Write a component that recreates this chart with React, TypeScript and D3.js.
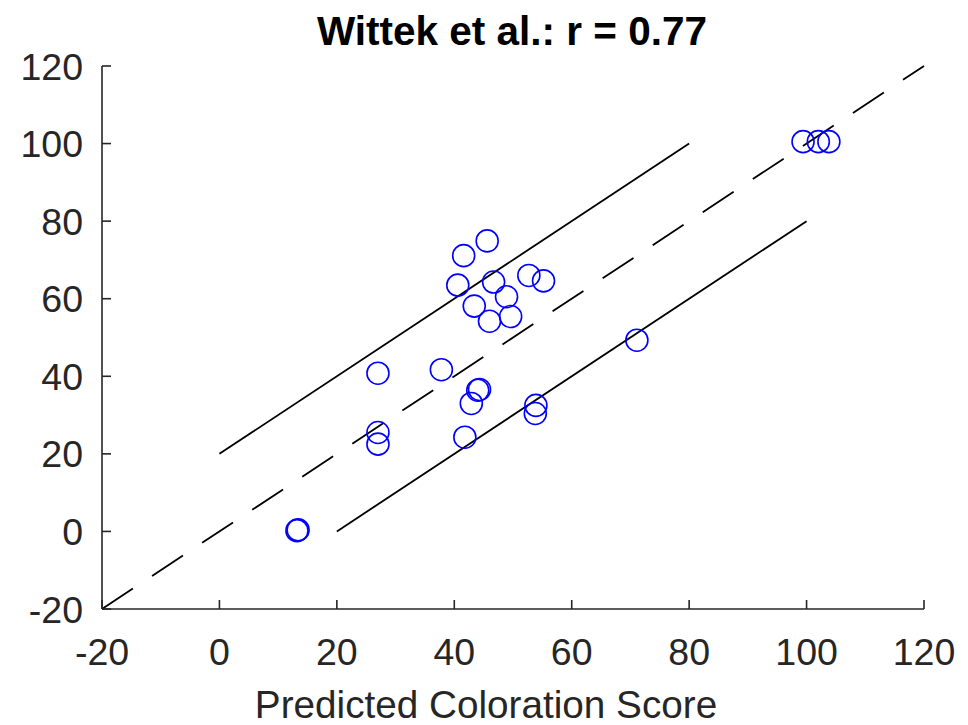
import React from 'react';
import {scaleLinear, line} from 'd3';

const predicted = [45.6, 41.6, 40.6, 46.7, 52.7, 55.2, 48.9, 43.4, 46.0, 49.6, 27.0, 37.8, 44.3, 44.0, 42.9, 53.9, 53.8, 27.0, 27.0, 41.8, 99.4, 102.0, 103.8, 71.1, 13.2, 13.4];
const observed = [74.9, 71.1, 63.5, 64.3, 66.0, 64.6, 60.5, 58.1, 54.2, 55.4, 40.8, 41.7, 36.6, 36.4, 33.0, 32.5, 30.4, 25.5, 22.5, 24.3, 100.5, 100.5, 100.5, 49.3, 0.2, 0.4];

const xTicks = [-20, 0, 20, 40, 60, 80, 100, 120];
const yTicks = [-20, 0, 20, 40, 60, 80, 100, 120];

// droite identité et bandes +/- 20
const identityLine = [[-20, -20], [120, 120]];
const upperBand = [[0, 20], [80, 100]];
const lowerBand = [[20, 0], [100, 80]];

const title = 'Wittek et al.: r = 0.77';
const xLabel = 'Predicted Coloration Score';

export default function App() {
  const width = 968;
  const height = 725;
  const left = 102, right = 924, top = 66, bottom = 609;

  const x = scaleLinear().domain([-20, 120]).range([left, right]);
  const y = scaleLinear().domain([-20, 120]).range([bottom, top]);
  const path = line<number[]>().x(d => x(d[0])).y(d => y(d[1]));

  const axisColor = '#262626';
  const font = 'Liberation Sans, Arial, Helvetica, sans-serif';

  return (
    <div style={{position: 'fixed', left: 0, top: 0}}>
      <svg width={width} height={height} style={{display: 'block', background: '#fff'}}>
        <text x={512} y={45} textAnchor="middle" fontFamily={font} fontWeight="bold" fontSize={40.5} fill="#000">
          {title}
        </text>

        <path d={path(identityLine) || ''} stroke="#000" strokeWidth={1.8} fill="none" strokeDasharray="37 23" />
        <path d={path(upperBand) || ''} stroke="#000" strokeWidth={1.8} fill="none" />
        <path d={path(lowerBand) || ''} stroke="#000" strokeWidth={1.8} fill="none" />

        {predicted.map((d, i) => (
          <circle key={i} cx={x(d)} cy={y(observed[i])} r={11} fill="none" stroke="#0000ff" strokeWidth={1.6} />
        ))}

        {/* axes */}
        <line x1={left} x2={right} y1={bottom} y2={bottom} stroke={axisColor} strokeWidth={1.6} />
        <line x1={left} x2={left} y1={top} y2={bottom} stroke={axisColor} strokeWidth={1.6} />
        {xTicks.map(t => (
          <g key={'x' + t}>
            <line x1={x(t)} x2={x(t)} y1={bottom} y2={bottom - 9} stroke={axisColor} strokeWidth={1.6} />
            <text x={x(t)} y={bottom + 56} textAnchor="middle" fontFamily={font} fontSize={37.5} fill={axisColor}>
              {t}
            </text>
          </g>
        ))}
        {yTicks.map(t => (
          <g key={'y' + t}>
            <line x1={left} x2={left + 9} y1={y(t)} y2={y(t)} stroke={axisColor} strokeWidth={1.6} />
            <text x={83} y={y(t) + 13.5} textAnchor="end" fontFamily={font} fontSize={37.5} fill={axisColor}>
              {t}
            </text>
          </g>
        ))}
        <text x={486} y={718} textAnchor="middle" fontFamily={font} fontSize={38.7} fill={axisColor}>
          {xLabel}
        </text>
      </svg>
    </div>
  );
}
